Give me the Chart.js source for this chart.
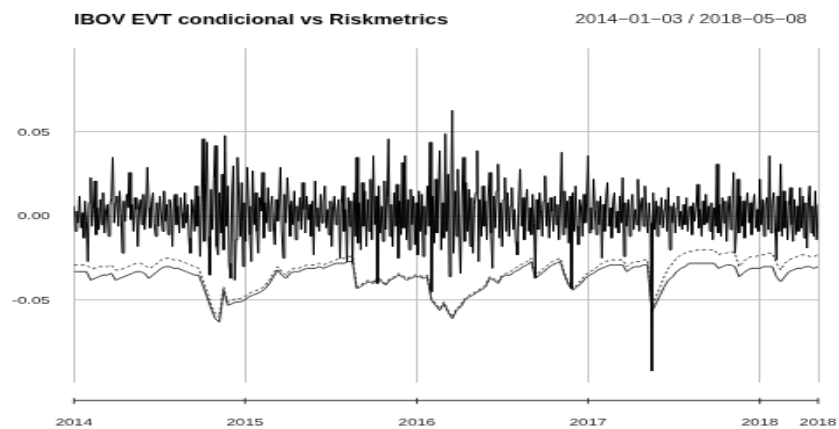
<!DOCTYPE html>
<html>
<head>
<meta charset="utf-8">
<script src="https://cdn.jsdelivr.net/npm/chart.js@4.4.1/dist/chart.umd.min.js"></script>
<style>
  html, body { margin: 0; padding: 0; background: #ffffff; overflow: hidden; }
  #wrap { position: absolute; left: 0; top: 0; width: 480px; height: 370px;
          transform: scale(1.7479, 1.1595); transform-origin: 0 0; }
</style>
</head>
<body>
<div id="wrap"><canvas id="c" width="480" height="370"></canvas></div>
<script>
// ---------------- data ----------------
const chartTitle = 'IBOV EVT condicional vs Riskmetrics';
const dateRange = '2014\u221201\u221203 / 2018\u221205\u221208';

// x axis: trading-day index since 2014-01-03
const xTickDays   = [0, 247, 495, 742, 990, 1074];
const xTickLabels = ['2014', '2015', '2016', '2017', '2018', '2018'];
const yTicks      = [-0.05, 0, 0.05];
const yTickLabels = ['-0.05', '0.00', '0.05'];

// IBOV daily log-returns, one sample every 2 trading days, in 1/1000
const retStep = 2;
const retPermille = [
  6,-9,3,-4,12,-7,2,-13,9,-3,-27,8,23,-6,4,21,-11,5,-8,10,
  -5,14,-10,3,7,-12,6,11,35,-4,8,12,-6,15,2,-22,9,-3,13,5,
  26,-2,7,-9,11,4,-18,6,10,-5,13,-8,3,29,5,-7,9,14,-4,-12,
  8,-6,12,3,-9,15,-3,7,-11,10,4,-18,9,13,-5,6,-10,11,2,-7,
  14,-4,7,-13,-22,10,5,-9,18,-6,12,-24,8,46,-15,20,44,-12,-35,16,
  -8,22,42,-18,-23,14,-10,25,-20,48,-6,18,-28,-37,12,30,-38,-14,35,10,
  -12,20,-30,8,-15,29,6,-11,-27,27,-5,14,-9,-22,11,3,26,-13,8,-4,
  17,-9,6,12,-6,-17,10,-3,8,29,-8,-25,13,-4,23,7,-12,9,-5,15,
  -14,6,-3,11,-8,20,4,-10,12,-2,7,-12,9,-23,21,-6,5,-9,13,-4,
  8,18,-7,4,-11,9,-18,6,12,-5,3,10,-25,7,18,-9,4,-27,11,-6,
  9,-28,14,-12,35,-16,8,-20,20,-6,15,-18,10,-9,22,-14,36,-5,12,-40,
  18,-10,6,-15,21,-8,11,46,-12,7,-18,14,-6,19,-25,9,-11,32,-7,36,
  -14,10,-20,16,-5,12,-17,8,-23,15,-9,13,-24,6,-11,18,-6,44,-45,12,
  -16,22,-10,14,39,-20,8,-13,49,-9,25,-36,10,63,-22,15,-12,28,-8,-34,
  12,35,-15,20,-9,16,-18,11,-22,7,14,39,-27,10,-12,18,-6,9,-14,12,
  26,-10,-31,12,-7,15,31,-13,8,-18,10,23,-9,14,-12,6,17,-8,4,-15,
  -23,9,28,-6,11,-14,7,16,-9,5,-11,13,-4,-37,10,-8,14,4,-12,9,
  24,-6,8,-13,11,3,-9,12,-5,7,-14,10,38,-11,15,-7,9,-16,12,-43,
  14,-9,18,-6,-17,10,6,-12,13,-4,8,36,-10,5,-8,22,4,-11,9,-5,
  12,-25,7,-9,11,20,-6,5,-13,9,14,-7,3,-10,12,-4,23,-24,8,-6,
  10,-12,5,13,-8,4,-5,22,-9,7,11,-6,18,3,-10,8,-4,-92,14,-8,
  9,-12,6,-5,11,-7,4,10,-9,17,-20,6,-4,8,-10,5,12,-6,3,-8,
  7,-5,11,-9,4,6,-11,8,-3,5,19,-7,4,-12,9,-5,13,-4,6,-9,
  8,-14,5,-6,31,-10,7,-12,11,-4,9,-15,6,12,-8,4,26,-22,-9,22,
  -10,12,-6,9,-13,5,14,-4,8,-11,6,13,-7,4,-9,22,-5,10,-12,7,
  11,-8,36,-10,7,14,-6,-26,12,-9,31,-12,15,-7,9,-14,6,17,-5,-15,
  10,-11,6,-9,17,-7,12,-13,8,-19,9,18,-10,6,-12,15,-14,7
];

// VaR series, one sample every 6 trading days, in 1/1000
const varStep = 6;
const evtVaRPermille = [
  -29,-29,-29,-29,-31,-31,-30,-30,-30,-29,
  -32,-32,-31,-30,-29,-28,-28,-29,-31,-30,
  -28,-26,-25,-25,-26,-26,-27,-28,-29,-30,
  -31,-38,-45,-53,-58,-60,-42,-51,-50,-49,
  -49,-48,-46,-45,-44,-43,-41,-38,-34,-30,
  -33,-35,-32,-31,-31,-30,-29,-29,-29,-28,
  -29,-28,-27,-26,-25,-25,-24,-24,-42,-41,
  -39,-38,-39,-36,-38,-40,-37,-36,-34,-35,
  -37,-36,-35,-35,-36,-35,-49,-52,-55,-51,
  -56,-60,-55,-53,-49,-47,-46,-44,-43,-41,
  -36,-37,-39,-35,-34,-33,-31,-30,-28,-27,
  -25,-36,-33,-31,-29,-27,-26,-25,-34,-40,
  -43,-41,-38,-35,-33,-32,-30,-28,-27,-26,
  -26,-26,-26,-30,-28,-27,-27,-26,-26,-55,
  -48,-42,-36,-31,-28,-25,-23,-22,-21,-21,
  -20,-20,-20,-20,-20,-23,-22,-22,-21,-22,
  -30,-27,-25,-24,-24,-23,-23,-22,-22,-28,
  -32,-28,-26,-25,-24,-23,-23,-24,-24,-23
];
const riskmetricsVaRPermille = [
  -33,-33,-33,-33,-38,-37,-36,-35,-35,-34,
  -38,-37,-36,-35,-34,-33,-33,-34,-37,-35,
  -33,-31,-30,-30,-31,-31,-32,-33,-34,-35,
  -35,-41,-48,-55,-61,-63,-44,-53,-52,-51,
  -51,-50,-48,-47,-46,-45,-43,-40,-36,-32,
  -35,-37,-34,-33,-33,-32,-31,-31,-31,-30,
  -31,-30,-29,-28,-28,-28,-27,-27,-43,-42,
  -40,-39,-40,-37,-39,-41,-38,-37,-35,-36,
  -38,-37,-36,-36,-37,-36,-50,-53,-56,-52,
  -57,-61,-56,-54,-50,-48,-47,-45,-44,-42,
  -37,-38,-40,-36,-35,-35,-33,-32,-30,-29,
  -27,-37,-35,-33,-31,-29,-28,-27,-35,-41,
  -44,-42,-40,-37,-35,-34,-32,-31,-30,-29,
  -29,-29,-29,-33,-31,-30,-30,-29,-29,-57,
  -52,-47,-42,-38,-36,-33,-31,-30,-28,-28,
  -28,-28,-28,-28,-28,-31,-30,-29,-29,-30,
  -36,-34,-32,-31,-31,-31,-30,-30,-30,-36,
  -39,-36,-33,-32,-31,-31,-30,-30,-31,-30
];

// ---------------- chart ----------------
const toPoints = (arr, step) => arr.map((v, i) => ({ x: i * step, y: v / 1000 }));
const FONT = '"Liberation Sans", Arial, Helvetica, sans-serif';

const decorations = {
  id: 'decorations',
  afterDraw(chart) {
    const ctx = chart.ctx;
    const xs = chart.scales.x;
    const y = chart.chartArea.bottom + 15;
    ctx.save();
    ctx.strokeStyle = '#333333';
    ctx.lineWidth = 1;
    ctx.beginPath();
    ctx.moveTo(xs.getPixelForValue(xTickDays[0]), y);
    ctx.lineTo(xs.getPixelForValue(xTickDays[xTickDays.length - 1]), y);
    xTickDays.forEach(d => {
      const p = xs.getPixelForValue(d);
      ctx.moveTo(p, y - 2);
      ctx.lineTo(p, y + 3);
    });
    ctx.stroke();
    ctx.font = '11px ' + FONT;
    ctx.fillStyle = '#333333';
    ctx.textAlign = 'right';
    ctx.textBaseline = 'middle';
    ctx.fillText(dateRange, 461.7, 17.4);
    ctx.restore();
  }
};

new Chart(document.getElementById('c'), {
  type: 'line',
  data: {
    datasets: [
      { label: 'IBOV', data: toPoints(retPermille, retStep),
        borderColor: '#000000', borderWidth: 1, pointRadius: 0, tension: 0 },
      { label: 'EVT condicional', data: toPoints(evtVaRPermille, varStep),
        borderColor: '#333333', borderWidth: 1, borderDash: [2, 2], pointRadius: 0, tension: 0 },
      { label: 'Riskmetrics', data: toPoints(riskmetricsVaRPermille, varStep),
        borderColor: '#333333', borderWidth: 1, pointRadius: 0, tension: 0 }
    ]
  },
  options: {
    responsive: false,
    animation: false,
    devicePixelRatio: 1,
    layout: { padding: { left: 0, right: 12, top: 0, bottom: 0 } },
    plugins: {
      legend: { display: false },
      tooltip: { enabled: false },
      title: {
        display: true, text: chartTitle, align: 'start', fullSize: false,
        color: '#000000', font: { family: FONT, size: 12, weight: 'bold' },
        padding: { top: 10, bottom: 17 }
      }
    },
    scales: {
      x: {
        type: 'linear', min: xTickDays[0], max: xTickDays[xTickDays.length - 1],
        afterBuildTicks: s => { s.ticks = xTickDays.map(v => ({ value: v })); },
        afterFit: s => { s.height = 39.7; s.paddingLeft = 0; s.paddingRight = 0; },
        grid: { color: '#c4c4c4', lineWidth: 1, drawTicks: false },
        border: { display: false },
        ticks: {
          autoSkip: false, maxRotation: 0, padding: 28.5, color: '#222222',
          font: { family: FONT, size: 9.6 },
          callback: v => xTickLabels[xTickDays.indexOf(v)]
        }
      },
      y: {
        type: 'linear', min: -0.0992, max: 0.1,
        afterBuildTicks: s => { s.ticks = yTicks.map(v => ({ value: v })); },
        afterFit: s => { s.width = 42.3; s.paddingTop = 0; s.paddingBottom = 0; },
        grid: { color: '#c4c4c4', lineWidth: 1, drawTicks: false },
        border: { display: false },
        ticks: {
          padding: 13.7, color: '#222222',
          font: { family: FONT, size: 9.6 },
          callback: v => yTickLabels[yTicks.indexOf(v)]
        }
      }
    }
  },
  plugins: [decorations]
});
</script>
</body>
</html>
